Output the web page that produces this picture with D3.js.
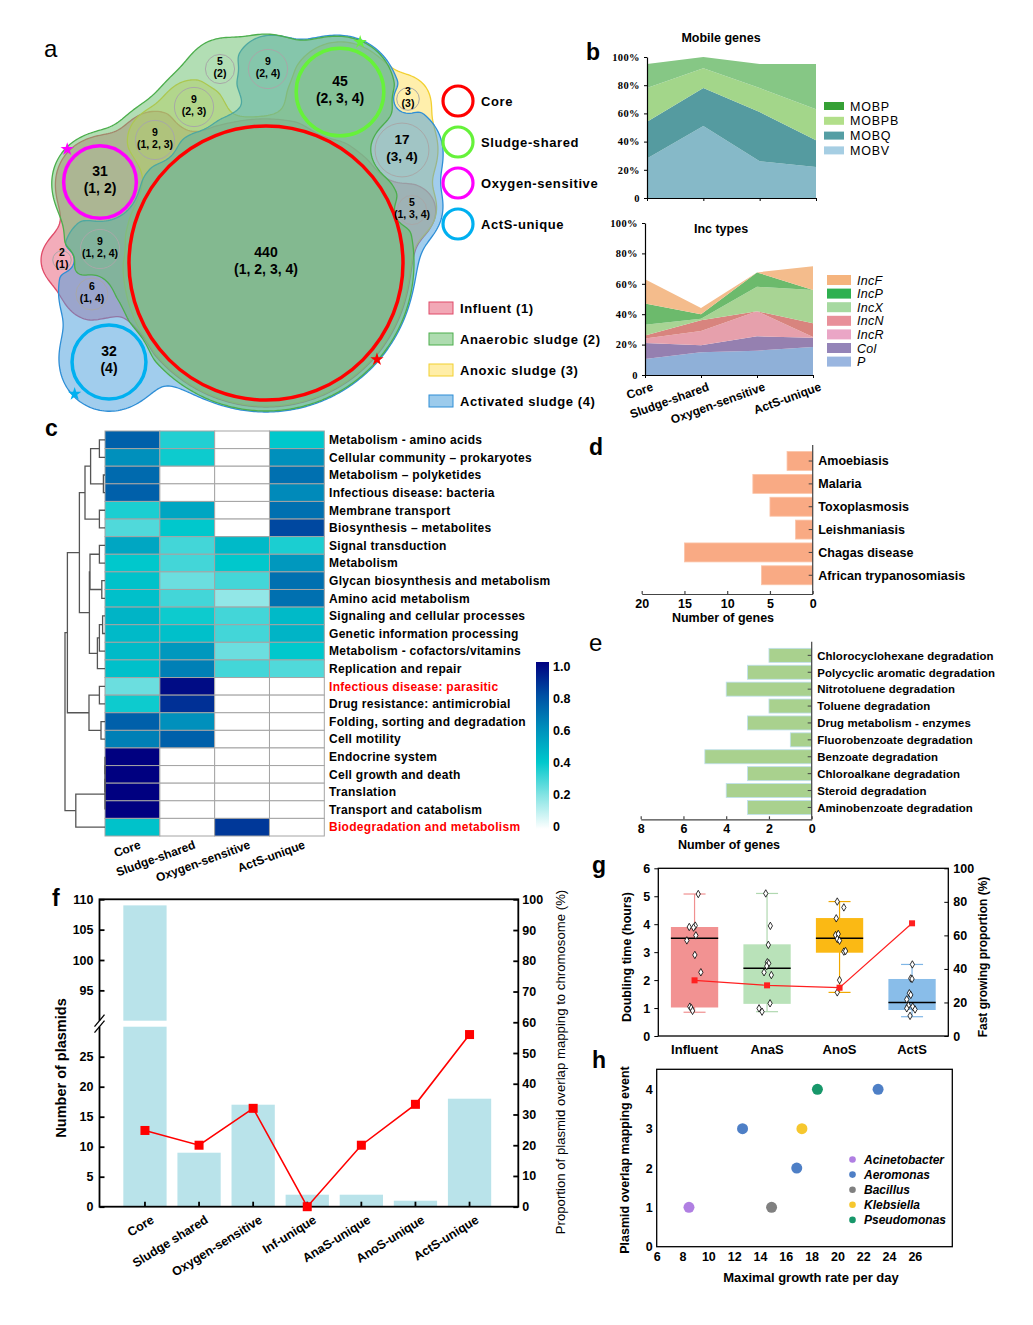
<!DOCTYPE html>
<html>
<head>
<meta charset="utf-8">
<script src="https://cdn.jsdelivr.net/npm/d3@7"></script>
<style>
  body { margin: 0; background: #fff; }
  svg { display: block; font-family: "Liberation Sans", Arial, sans-serif; }
</style>
</head>
<body>
<svg id="fig" width="1033" height="1325"></svg>
<script>
// ---------------- data ----------------
// a : plasmid clusters shared between the four sampling sites
const vennCounts = [440, 45, 31, 32, 17, 9, 5, 9, 3, 9, 5, 9, 2, 6];
const vennSets = ["1, 2, 3, 4", "2, 3, 4", "1, 2", "4", "3, 4", "2, 4", "2", "2, 3", "3", "1, 2, 3", "1, 3, 4", "1, 2, 4", "1", "1, 4"];
const vennGroups = ["Influent (1)", "Anaerobic sludge (2)", "Anoxic sludge (3)", "Activated sludge (4)"];
const vennHighlight = ["Core", "Sludge-shared", "Oxygen-sensitive", "ActS-unique"];
// layout of the euler diagram (circle centres), not data
const vennPos = [[266, 263], [340, 92], [100, 182], [109, 362], [402, 150], [268, 69], [220, 69], [194, 107], [408, 99], [155, 140], [412, 210], [100, 249], [62, 260], [92, 294]];
const starAngle = [41, -68, -135, 137];

// b : mobile genes / Inc types (%)
const bCats = ["Core", "Sludge-shared", "Oxygen-sensitive", "ActS-unique"];
const mobV = [28, 51, 26, 22];
const mobQ = [26, 27, 35, 19];
const mobPB = [24, 14, 17, 22];
const mobP = [17, 8, 17, 32];
const incPlain = [10.5, 15, 16, 18.5];   // P
const incCol = [10.5, 4.5, 9.5, 6];
const incR = [3, 9.5, 16.5, 0.5];
const incN = [2, 7, 0, 9];
const incX = [7, 1, 16, 22];
const incP = [14, 3, 9.5, 0];
const incF = [16, 4, 0, 15.5];

// c : KEGG heatmap
const heatRows = ["Metabolism - amino acids", "Cellular community \u2013 prokaryotes", "Metabolism \u2013 polyketides",
  "Infectious disease: bacteria", "Membrane transport", "Biosynthesis \u2013 metabolites", "Signal transduction", "Metabolism",
  "Glycan biosynthesis and metabolism", "Amino acid metabolism", "Signaling and cellular processes", "Genetic information processing",
  "Metabolism - cofactors/vitamins", "Replication and repair", "Infectious disease: parasitic", "Drug resistance: antimicrobial",
  "Folding, sorting and degradation", "Cell motility", "Endocrine system", "Cell growth and death", "Translation",
  "Transport and catabolism", "Biodegradation and metabolism"];
const heatRed = ["Infectious disease: parasitic", "Biodegradation and metabolism"];
const heatCols = ["Core", "Sludge-shared", "Oxygen-sensitive", "ActS-unique"];
const heatCore = [0.75, 0.6, 0.72, 0.75, 0.36, 0.28, 0.52, 0.4, 0.42, 0.43, 0.47, 0.45, 0.45, 0.43, 0.24, 0.38, 0.75, 0.65, 1, 1, 1, 1, 0.42];
const heatSludge = [0.35, 0.38, 0, 0, 0.52, 0.4, 0.3, 0.3, 0.24, 0.3, 0.38, 0.43, 0.57, 0.65, 0.97, 0.88, 0.6, 0.75, 0, 0, 0, 0, 0];
const heatOxy = [0, 0, 0, 0, 0, 0, 0.45, 0.4, 0.3, 0.18, 0.3, 0.3, 0.24, 0.3, 0, 0, 0, 0, 0, 0, 0, 0, 0.86];
const heatActS = [0.4, 0.6, 0.7, 0.62, 0.7, 0.82, 0.36, 0.57, 0.7, 0.7, 0.45, 0.47, 0.4, 0.28, 0, 0, 0, 0, 0, 0, 0, 0, 0];
// row dendrogram: [height, left, right], leaves = row index
const heatTree = [1.0,
  [0.94,
    [0.64,
      [0.5, [0.36, [0.14, 0, 1], [0.04, 2, 3]], [0.14, 4, 5]],
      [0.39, [0.375, [0.14, 6, 7], [0.08, 8, 9]], [0.19, [0.14, [0.06, 10, 11], 12], 13]]],
    [0.4, [0.14, 14, 15], [0.1, 16, 17]]],
  [0.73, [0, [0, [0, 18, 19], 20], 21], 22]];

// d : parasitic diseases
const diseases = ["Amoebiasis", "Malaria", "Toxoplasmosis", "Leishmaniasis", "Chagas disease", "African trypanosomiasis"];
const diseaseGenes = [3, 7, 5, 2, 15, 6];

// e : biodegradation
const degradations = ["Chlorocyclohexane degradation", "Polycyclic aromatic degradation", "Nitrotoluene degradation",
  "Toluene degradation", "Drug metabolism - enzymes", "Fluorobenzoate degradation", "Benzoate degradation",
  "Chloroalkane degradation", "Steroid degradation", "Aminobenzoate degradation"];
const degradGenes = [2, 3, 4, 2, 3, 1, 5, 3, 4, 3];

// f : plasmids per category
const plasmidCats = ["Core", "Sludge shared", "Oxygen-sensitive", "Inf-unique", "AnaS-unique", "AnoS-unique", "ActS-unique"];
const plasmidCounts = [109, 9, 17, 2, 2, 1, 18];
const overlapPct = [24.8, 20, 32, 0, 20, 33.3, 56];

// g : doubling time
const sites = ["Influent", "AnaS", "AnoS", "ActS"];
const boxLo = [0.85, 0.87, 1.56, 0.69];
const boxQ1 = [1.02, 1.15, 2.98, 0.93];
const boxMed = [3.5, 2.42, 3.5, 1.2];
const boxQ3 = [3.9, 3.28, 4.22, 2.04];
const boxHi = [5.08, 5.1, 4.81, 2.56];
const dtInfluent = [5.08, 3.9, 3.95, 3.88, 3.6, 3.42, 2.9, 2.28, 1.05, 1.0, 0.9];
const dtAnaS = [5.1, 3.94, 3.26, 2.64, 2.6, 2.5, 2.28, 2.18, 1.17, 0.99, 0.87];
const dtAnoS = [4.81, 4.6, 4.21, 3.61, 3.65, 3.47, 3.41, 3.02, 3.04, 2.0, 1.56];
const dtActS = [2.56, 2.06, 2.04, 1.53, 1.47, 1.31, 1.05, 1.09, 0.99, 0.95, 0.72];
const jitInfluent = [3.7, -5.3, 0.7, -1, 1.3, -7.7, 0.3, 6.3, -4.7, -3.3, -2];
const jitAnaS = [-1.3, 3.3, 1.3, 0.3, 1.7, -0.3, -3, 4.3, 3, -8, -5];
const jitAnoS = [-2.3, 4.3, -3.3, -4, -1.3, -2.3, 0, 4.3, 6, 0, -2.3];
const jitActS = [0.3, -1.3, 0, -2.7, -1.3, -5.3, 0.7, -3.7, -5.3, 3, -2];
const fastPct = [33.2, 30.2, 28.8, 67.2];

// h : growth rate vs overlap events
const hGenus = ["Acinetobacter", "Aeromonas", "Aeromonas", "Aeromonas", "Bacillus", "Klebsiella", "Pseudomonas"];
const hRate = [8.5, 12.65, 16.85, 23.15, 14.9, 17.25, 18.45];
const hEvents = [1, 3, 2, 4, 1, 3, 4];
const genera = ["Acinetobacter", "Aeromonas", "Bacillus", "Klebsiella", "Pseudomonas"];

// ---------------- helpers ----------------
const FONT = '"Liberation Sans", Arial, sans-serif';
const SERIF = '"Liberation Serif", "Times New Roman", serif';
const svg = d3.select("#fig");

function txt(g, x, y, s, o = {}) {
  const t = g.append("text").attr("x", x).attr("y", y).text(s)
    .attr("font-size", o.size || 12)
    .attr("font-weight", o.weight || "bold")
    .attr("text-anchor", o.anchor || "start")
    .attr("fill", o.fill || "#000");
  if (o.italic) t.attr("font-style", "italic");
  if (o.ls) t.attr("letter-spacing", o.ls);
  if (o.family) t.attr("font-family", o.family);
  if (o.rotate) t.attr("transform", `rotate(${o.rotate},${x},${y})`);
  return t;
}
function restyle(g, size, weight, family) {
  g.attr("font-family", null).attr("font-size", null);
  g.selectAll("text").attr("font-size", size).attr("font-weight", weight)
    .attr("font-family", family || FONT).attr("fill", "#000");
}

// panel letters
txt(svg, 44, 57, "a", { size: 24, weight: "normal" });
txt(svg, 586, 60, "b", { size: 23 });
txt(svg, 45, 436, "c", { size: 23 });
txt(svg, 589, 455, "d", { size: 23 });
txt(svg, 589, 651, "e", { size: 24, weight: "normal" });
txt(svg, 52, 906, "f", { size: 23 });
txt(svg, 592, 873, "g", { size: 23 });
txt(svg, 592, 1068, "h", { size: 23 });

// ---------------- a : euler diagram ----------------
const gA = svg.append("g");
const rScale = d3.scaleSqrt().domain([0, 440]).range([0, 137]);
const regions = vennCounts.map((n, i) => ({
  n, label: vennSets[i], sets: vennSets[i].split(", ").map(Number),
  x: vennPos[i][0], y: vennPos[i][1], r: rScale(n)
}));
const blobLook = [
  { id: 1, fill: "#e8607a", stroke: "#e04a68", pad: 7 },
  { id: 2, fill: "#6cc070", stroke: "#4cae4c", pad: 11 },
  { id: 3, fill: "#ffe060", stroke: "#f2d030", pad: 6 },
  { id: 4, fill: "#4aa0dc", stroke: "#2e8ed6", pad: 12 }
];
const blobOrder = [1, 3, 4, 2];

function sminPoly(a, b, k) {
  const h = Math.max(k - Math.abs(a - b), 0) / k;
  return Math.min(a, b) - h * h * k / 4;
}
// smooth union of member circles minus the other circles, traced with d3.contours
function blobPath(setId, pad, k) {
  const step = 2, gx0 = 10, gy0 = 10, nx = 250, ny = 220;
  const vals = new Array(nx * ny);
  for (let j = 0; j < ny; j++) {
    for (let i = 0; i < nx; i++) {
      const px = gx0 + i * step, py = gy0 + j * step;
      let sum = 0, cut = -1e9;
      for (const r of regions) {
        const d = Math.hypot(px - r.x, py - r.y);
        if (r.sets.includes(setId)) sum += Math.exp(-(d - r.r - pad) / k);
        else cut = Math.max(cut, r.r + 3 - d);
      }
      const inside = sum > 0 ? k * Math.log(sum) : -1e9;
      vals[j * nx + i] = sminPoly(inside, -cut, 8);
    }
  }
  const c = d3.contours().size([nx, ny]).thresholds([0])(vals)[0];
  return d3.geoPath(d3.geoIdentity().scale(step).translate([gx0 - step / 2, gy0 - step / 2]))(c);
}

blobOrder.forEach(id => {
  const b = blobLook[id - 1];
  gA.append("path").attr("d", blobPath(b.id, b.pad, 16))
    .attr("fill", b.fill).attr("fill-opacity", 0.52)
    .attr("stroke", b.stroke).attr("stroke-width", 1.3);
});

gA.selectAll("circle.reg").data(regions).join("circle")
  .attr("class", "reg")
  .attr("cx", d => d.x).attr("cy", d => d.y).attr("r", d => d.r)
  .attr("fill", "none").attr("stroke", "#a8a8a8").attr("stroke-width", 1);

const hiColors = ["#ff0000", "#66f23a", "#ff00ff", "#00b0f0"];
vennHighlight.forEach((h, i) => {
  const r = regions[i];
  gA.append("circle").attr("cx", r.x).attr("cy", r.y).attr("r", r.r)
    .attr("fill", "none").attr("stroke", hiColors[i]).attr("stroke-width", 3.5);
  const a = starAngle[i] * Math.PI / 180, d = r.r + 10;
  gA.append("path").attr("d", d3.symbol().type(d3.symbolStar).size(55)())
    .attr("transform", `translate(${r.x + d * Math.cos(a)},${r.y + d * Math.sin(a)})`)
    .attr("fill", hiColors[i]);
});

regions.forEach(r => {
  const fs = r.r > 30 ? 14 : r.r > 25 ? 13.5 : 10.5;
  txt(gA, r.x, r.y - 0.42 * fs, String(r.n), { size: fs, anchor: "middle" });
  txt(gA, r.x, r.y + 0.8 * fs, "(" + r.label + ")", { size: fs, anchor: "middle" });
});

// legends of a
vennHighlight.forEach((h, i) => {
  const y = 101 + i * 41;
  gA.append("circle").attr("cx", 458).attr("cy", y).attr("r", 15)
    .attr("fill", "none").attr("stroke", hiColors[i]).attr("stroke-width", 3.2);
  txt(gA, 481, y + 5, h, { size: 13, ls: 0.6 });
});
vennGroups.forEach((g, i) => {
  const y = 308 + i * 31;
  gA.append("rect").attr("x", 429).attr("y", y - 6).attr("width", 24).attr("height", 12)
    .attr("fill", blobLook[i].fill).attr("fill-opacity", 0.55)
    .attr("stroke", blobLook[i].stroke).attr("stroke-width", 1);
  txt(gA, 460, y + 5, g, { size: 13, ls: 0.6 });
});

// ---------------- b : stacked areas ----------------
function stackPanel(cfg) {
  const g = svg.append("g");
  const table = bCats.map((c, i) => {
    const row = { cat: c };
    cfg.keys.forEach((k, j) => row[k] = cfg.series[j][i]);
    return row;
  });
  const st = d3.stack().keys(cfg.keys)(table);
  const x = d3.scalePoint().domain(bCats).range(cfg.xr);
  const y = d3.scaleLinear().domain([0, 100]).range(cfg.yr);
  const area = d3.area().x(d => x(d.data.cat)).y0(d => y(d[0])).y1(d => y(d[1]));
  g.selectAll("path.band").data(st).join("path").attr("class", "band")
    .attr("d", area).attr("fill", (d, i) => cfg.band[i]);
  const ya = g.append("g").attr("transform", `translate(${cfg.xr[0]},0)`)
    .call(d3.axisLeft(y).tickValues([0, 20, 40, 60, 80, 100]).tickFormat(d => d ? d + "%" : "0").tickSize(3).tickSizeOuter(0).tickPadding(4));
  restyle(ya, 10.5, "bold", SERIF);
  ya.selectAll("text").attr("letter-spacing", 0.4);
  const xa = g.append("g").attr("transform", `translate(0,${cfg.yr[0]})`)
    .call(d3.axisBottom(x).tickSize(3).tickSizeOuter(0).tickFormat(""));
  xa.select(".domain").attr("stroke-width", 1.2);
  ya.select(".domain").attr("stroke-width", 1.2);
  txt(g, 721, cfg.titleY, cfg.title, { size: 12.5, anchor: "middle" });
  cfg.legendOrder.forEach((k, i) => {
    const j = cfg.keys.indexOf(k);
    const yy = cfg.legY[0] + i * cfg.legY[1];
    g.append("rect").attr("x", cfg.legX).attr("y", yy - cfg.swH / 2).attr("width", cfg.swW).attr("height", cfg.swH)
      .attr("fill", cfg.legend[j]);
    txt(g, cfg.legX + cfg.swW + 6, yy + 4.5, k, { size: 12.5, weight: "normal", italic: cfg.italic, ls: cfg.italic ? 0.3 : 0.8 });
  });
  return { g, x, y };
}

stackPanel({
  keys: ["MOBV", "MOBQ", "MOBPB", "MOBP"], series: [mobV, mobQ, mobPB, mobP],
  band: ["#86b9c8", "#559ba0", "#a3d68a", "#86c785"],
  legend: ["#a6cee3", "#559ea4", "#b2df8a", "#35a035"],
  legendOrder: ["MOBP", "MOBPB", "MOBQ", "MOBV"],
  xr: [647, 816], yr: [198, 57], title: "Mobile genes", titleY: 42,
  legX: 824, legY: [106, 14.8], swW: 20, swH: 8, italic: false
});

const incPanel = stackPanel({
  keys: ["P", "Col", "IncR", "IncN", "IncX", "IncP", "IncF"],
  series: [incPlain, incCol, incR, incN, incX, incP, incF],
  band: ["#8fb0d8", "#9580b0", "#e6a0ac", "#d8847e", "#a8d494", "#6cba6c", "#f4bc8c"],
  legend: ["#9ab6e0", "#9484b8", "#eaa6c6", "#e8909a", "#a6d9a0", "#2eb050", "#f5b47e"],
  legendOrder: ["IncF", "IncP", "IncX", "IncN", "IncR", "Col", "P"],
  xr: [645, 813], yr: [375, 223], title: "Inc types", titleY: 233,
  legX: 827, legY: [280, 13.6], swW: 24, swH: 10, italic: true
});
bCats.forEach(c => {
  txt(incPanel.g, incPanel.x(c) + 9, 390, c, { size: 12, anchor: "end", rotate: -20 });
});

// ---------------- c : heatmap ----------------
const gC = svg.append("g");
const heatX = d3.scaleBand().domain(heatCols).range([105, 324.3]);
const heatY = d3.scaleBand().domain(heatRows).range([431, 836]);
const heatColor = d3.scaleLinear().domain([0, 0.2, 0.4, 0.6, 0.8, 1])
  .range(["#ffffff", "#86e4e4", "#00c8cc", "#0090bc", "#0050a4", "#000080"]);
const heatVals = [heatCore, heatSludge, heatOxy, heatActS];
heatCols.forEach((c, j) => {
  gC.selectAll(null).data(heatRows).join("rect")
    .attr("x", heatX(c)).attr("y", d => heatY(d))
    .attr("width", heatX.bandwidth()).attr("height", heatY.bandwidth())
    .attr("fill", (d, i) => heatColor(heatVals[j][i]))
    .attr("stroke", "#a4a4a4").attr("stroke-width", 1);
});
heatRows.forEach(r => {
  txt(gC, 329, heatY(r) + heatY.bandwidth() / 2 + 4.3, r, { size: 12, ls: 0.3, fill: heatRed.includes(r) ? "#ff0000" : "#000" });
});
heatCols.forEach(c => {
  txt(gC, heatX(c) + heatX.bandwidth() / 2 + 9, 848, c, { size: 12, anchor: "end", rotate: -20 });
});
// dendrogram
const dendX = d3.scaleLinear().domain([0, 1]).range([105, 65]);
const gD = gC.append("g").attr("fill", "none").attr("stroke", "#555").attr("stroke-width", 1.3);
function placeNode(node) {
  if (typeof node === "number") return { x: 105, y: heatY(heatRows[node]) + heatY.bandwidth() / 2 };
  const [h, a, b] = node;
  const pa = placeNode(a), pb = placeNode(b), x = dendX(h);
  gD.append("path").attr("d", `M${pa.x},${pa.y}H${x}V${pb.y}H${pb.x}`);
  return { x, y: (pa.y + pb.y) / 2 };
}
placeNode(heatTree);
// colour bar
const defs = svg.append("defs");
const grad = defs.append("linearGradient").attr("id", "heatGrad").attr("x1", 0).attr("y1", 1).attr("x2", 0).attr("y2", 0);
heatColor.domain().forEach(v => grad.append("stop").attr("offset", v).attr("stop-color", heatColor(v)));
gC.append("rect").attr("x", 536).attr("y", 662).attr("width", 13).attr("height", 167).attr("fill", "url(#heatGrad)");
const cbY = d3.scaleLinear().domain([0, 1]).range([826.7, 666]);
[0, 0.2, 0.4, 0.6, 0.8, 1].forEach(v => {
  txt(gC, 553, cbY(v) + 4.5, v === 0 ? "0" : v.toFixed(1), { size: 12.5 });
});

// ---------------- d / e : horizontal bars ----------------
function hbarPanel(cfg) {
  const g = svg.append("g");
  const x = d3.scaleLinear().domain([0, cfg.max]).range([cfg.x0, cfg.x1]);
  const y = d3.scaleBand().domain(cfg.cats).range(cfg.yr).paddingInner(0.17).paddingOuter(0.085);
  g.selectAll("rect").data(cfg.cats).join("rect")
    .attr("x", (d, i) => x(cfg.vals[i])).attr("y", d => y(d))
    .attr("width", (d, i) => x(0) - x(cfg.vals[i])).attr("height", y.bandwidth())
    .attr("fill", cfg.fill).attr("stroke", cfg.stroke).attr("stroke-width", 0.8);
  g.append("line").attr("x1", x(0)).attr("x2", x(0)).attr("y1", cfg.axTop).attr("y2", cfg.axBot)
    .attr("stroke", "#444").attr("stroke-width", 1.2);
  cfg.cats.forEach(c => {
    const yy = y(c) + y.bandwidth() / 2;
    g.append("line").attr("x1", x(0) - 4).attr("x2", x(0)).attr("y1", yy).attr("y2", yy).attr("stroke", "#444");
    txt(g, x(0) + 5.5, yy + 4.3, c, { size: cfg.fs, ls: cfg.ls });
  });
  const xa = g.append("g").attr("transform", `translate(0,${cfg.axBot})`)
    .call(d3.axisBottom(x).tickValues(cfg.ticks).tickSize(-3).tickSizeOuter(0).tickPadding(5));
  xa.selectAll("line,path").attr("stroke", "#444").attr("stroke-width", 1.2);
  restyle(xa, 12.5, "bold");
  txt(g, cfg.titleX, cfg.titleY, "Number of genes", { size: 12.5, anchor: "middle" });
}
hbarPanel({
  cats: diseases, vals: diseaseGenes, max: 20, x0: 812.7, x1: 641.7, yr: [449.6, 586.7],
  axTop: 445, axBot: 594, ticks: [0, 5, 10, 15, 20], fill: "#f9aa84", stroke: "#fbc4a8",
  fs: 12.5, ls: 0.05, titleX: 723, titleY: 622
});
hbarPanel({
  cats: degradations, vals: degradGenes, max: 8, x0: 811.7, x1: 640.7, yr: [646.9, 815.9],
  axTop: 641.7, axBot: 819.3, ticks: [0, 2, 4, 6, 8], fill: "#a9d18e", stroke: "#bfe0ee",
  fs: 11.4, ls: 0.1, titleX: 729, titleY: 849
});

// ---------------- f : plasmid counts + overlap ----------------
const gF = svg.append("g");
const fL = 99.5, fR = 518.3, fT = 899.3, fB = 1206.7;
const xf = d3.scaleBand().domain(plasmidCats).range([112.5, 502]).padding(0.2);
const yLow = d3.scaleLinear().domain([0, 30]).range([fB, 1026.7]);
const yUp = d3.scaleLinear().domain([90, 110]).range([1020.7, fT]);
const yPct = d3.scaleLinear().domain([0, 100]).range([fB, fT]);
plasmidCats.forEach((c, i) => {
  const v = plasmidCounts[i];
  gF.append("rect").attr("x", xf(c)).attr("width", xf.bandwidth())
    .attr("y", yLow(Math.min(v, 30))).attr("height", fB - yLow(Math.min(v, 30))).attr("fill", "#b9e3ea");
  if (v > 30) {
    gF.append("rect").attr("x", xf(c)).attr("width", xf.bandwidth())
      .attr("y", yUp(v)).attr("height", yUp(90) - yUp(v)).attr("fill", "#b9e3ea");
  }
});
gF.append("rect").attr("x", fL).attr("y", fT).attr("width", fR - fL).attr("height", fB - fT)
  .attr("fill", "none").attr("stroke", "#000").attr("stroke-width", 1.8);
const fLow = gF.append("g").attr("transform", `translate(${fL},0)`)
  .call(d3.axisLeft(yLow).tickValues([0, 5, 10, 15, 20, 25]).tickSize(-5).tickPadding(6).tickSizeOuter(0));
const fUp = gF.append("g").attr("transform", `translate(${fL},0)`)
  .call(d3.axisLeft(yUp).tickValues([95, 100, 105, 110]).tickSize(-5).tickPadding(6).tickSizeOuter(0));
[fLow, fUp].forEach(a => { a.select(".domain").remove(); a.selectAll("line").attr("stroke-width", 1.8); restyle(a, 12.5, "bold"); });
const fRight = gF.append("g").attr("transform", `translate(${fR},0)`)
  .call(d3.axisRight(yPct).ticks(10).tickSize(-5).tickPadding(4).tickSizeOuter(0));
fRight.select(".domain").remove();
fRight.selectAll("line").attr("stroke-width", 1.8);
restyle(fRight, 12.5, "bold");
const fBot = gF.append("g").attr("transform", `translate(0,${fB})`)
  .call(d3.axisBottom(xf).tickSize(-5).tickSizeOuter(0).tickFormat(""));
fBot.select(".domain").remove();
fBot.selectAll("line").attr("stroke-width", 1.8);
// axis break
gF.append("rect").attr("x", fL - 3).attr("y", 1020.7).attr("width", 6).attr("height", 6).attr("fill", "#fff");
[1020.7, 1026.7].forEach(yy => {
  gF.append("line").attr("x1", fL - 5).attr("y1", yy + 6).attr("x2", fL + 5).attr("y2", yy - 6)
    .attr("stroke", "#000").attr("stroke-width", 1.3);
});
const fLine = d3.line().x((d, i) => xf(plasmidCats[i]) + xf.bandwidth() / 2).y(d => yPct(d));
gF.append("path").attr("d", fLine(overlapPct)).attr("fill", "none").attr("stroke", "#ff0000").attr("stroke-width", 1.6);
gF.selectAll("rect.pt").data(overlapPct).join("rect").attr("class", "pt")
  .attr("x", (d, i) => xf(plasmidCats[i]) + xf.bandwidth() / 2 - 4.5).attr("y", d => yPct(d) - 4.5)
  .attr("width", 9).attr("height", 9).attr("fill", "#ff0000");
plasmidCats.forEach(c => {
  txt(gF, xf(c) + xf.bandwidth() / 2 + 10, 1222, c, { size: 12.5, anchor: "end", rotate: -32 });
});
txt(gF, 66, 1068, "Number of plasmids", { size: 14.5, anchor: "middle", rotate: -90 });
txt(gF, 565, 1062, "Proportion of plasmid overlap mapping to chromosome (%)", { size: 13.2, weight: "normal", anchor: "middle", rotate: -90 });

// ---------------- g : doubling time boxes ----------------
const gG = svg.append("g");
const gL = 658.3, gR = 948.3, gT = 868.3, gB = 1036;
const xg = d3.scaleBand().domain(sites).range([gL, gR]);
const yg = d3.scaleLinear().domain([0, 6]).range([gB, gT]);
const ygR = d3.scaleLinear().domain([0, 100]).range([gB, gT]);
const boxFill = ["#f29292", "#b9e2b9", "#fbb914", "#89bde9"];
const boxWhisk = ["#f09090", "#b0d8b0", "#f0a800", "#7fb6e6"];
const dtAll = [dtInfluent, dtAnaS, dtAnoS, dtActS];
const jitAll = [jitInfluent, jitAnaS, jitAnoS, jitActS];
sites.forEach((s, i) => {
  const cx = xg(s) + xg.bandwidth() / 2, bw = 47.3;
  gG.append("line").attr("x1", cx).attr("x2", cx).attr("y1", yg(boxLo[i])).attr("y2", yg(boxHi[i]))
    .attr("stroke", boxWhisk[i]).attr("stroke-width", 1.2);
  [boxLo[i], boxHi[i]].forEach(v => gG.append("line").attr("x1", cx - 11).attr("x2", cx + 11)
    .attr("y1", yg(v)).attr("y2", yg(v)).attr("stroke", boxWhisk[i]).attr("stroke-width", 1.2));
  gG.append("rect").attr("x", cx - bw / 2).attr("width", bw).attr("y", yg(boxQ3[i]))
    .attr("height", yg(boxQ1[i]) - yg(boxQ3[i])).attr("fill", boxFill[i]);
  gG.append("line").attr("x1", cx - bw / 2).attr("x2", cx + bw / 2).attr("y1", yg(boxMed[i])).attr("y2", yg(boxMed[i]))
    .attr("stroke", "#000").attr("stroke-width", 1.5);
  dtAll[i].forEach((v, k) => {
    gG.append("path").attr("d", d3.symbol().type(d3.symbolDiamond).size(16)())
      .attr("transform", `translate(${cx + jitAll[i][k]},${yg(v)})`)
      .attr("fill", "#fff").attr("stroke", "#000").attr("stroke-width", 0.8);
  });
  txt(gG, cx, 1053.5, s, { size: 13, anchor: "middle" });
});
const gLine = d3.line().x((d, i) => xg(sites[i]) + xg.bandwidth() / 2).y(d => ygR(d));
gG.append("path").attr("d", gLine(fastPct)).attr("fill", "none").attr("stroke", "#ff2020").attr("stroke-width", 1.2);
gG.selectAll("rect.pt").data(fastPct).join("rect").attr("class", "pt")
  .attr("x", (d, i) => xg(sites[i]) + xg.bandwidth() / 2 - 3).attr("y", d => ygR(d) - 3)
  .attr("width", 6).attr("height", 6).attr("fill", "#ff2020");
gG.append("rect").attr("x", gL).attr("y", gT).attr("width", gR - gL).attr("height", gB - gT)
  .attr("fill", "none").attr("stroke", "#000").attr("stroke-width", 1.3);
const gAxL = gG.append("g").attr("transform", `translate(${gL},0)`)
  .call(d3.axisLeft(yg).ticks(6).tickSize(4).tickPadding(4).tickSizeOuter(0));
gAxL.select(".domain").remove();
restyle(gAxL, 12.5, "bold");
const gAxR = gG.append("g").attr("transform", `translate(${gR},0)`)
  .call(d3.axisRight(ygR).tickValues([0, 20, 40, 60, 80, 100]).tickSize(-4).tickPadding(5).tickSizeOuter(0));
gAxR.select(".domain").remove();
restyle(gAxR, 12.5, "bold");
txt(gG, 631, 957, "Doubling time (hours)", { size: 12.5, anchor: "middle", rotate: -90 });
txt(gG, 987, 957, "Fast growing proportion (%)", { size: 12, anchor: "middle", rotate: -90 });

// ---------------- h : scatter ----------------
const gH = svg.append("g");
const hL = 656.7, hR = 952.3, hT = 1069.3, hB = 1246.7;
const xh = d3.scaleLinear().domain([6, 28.9]).range([hL, hR]);
const yh = d3.scaleLinear().domain([0, 4.51]).range([hB, hT]);
const genusColor = d3.scaleOrdinal().domain(genera).range(["#b07fe2", "#4e7fc6", "#808080", "#f6c72e", "#17976a"]);
gH.append("rect").attr("x", hL).attr("y", hT).attr("width", hR - hL).attr("height", hB - hT)
  .attr("fill", "none").attr("stroke", "#000").attr("stroke-width", 1.3);
const hAxB = gH.append("g").attr("transform", `translate(0,${hB})`)
  .call(d3.axisBottom(xh).tickValues(d3.range(6, 27, 2)).tickFormat(d3.format("d")).tickSize(0).tickPadding(5));
hAxB.select(".domain").remove();
restyle(hAxB, 12.5, "bold");
const hAxL = gH.append("g").attr("transform", `translate(${hL},0)`)
  .call(d3.axisLeft(yh).tickValues([0, 1, 2, 3, 4]).tickFormat(d3.format("d")).tickSize(0).tickPadding(4));
hAxL.select(".domain").remove();
restyle(hAxL, 12.5, "bold");
gH.selectAll("circle.pt").data(hRate).join("circle").attr("class", "pt")
  .attr("cx", d => xh(d)).attr("cy", (d, i) => yh(hEvents[i])).attr("r", 5.5)
  .attr("fill", (d, i) => genusColor(hGenus[i]));
genera.forEach((g, i) => {
  const yy = 1159.5 + i * 15.1;
  gH.append("circle").attr("cx", 852.5).attr("cy", yy).attr("r", 3.3).attr("fill", genusColor(g));
  txt(gH, 864, yy + 4.3, g, { size: 12, italic: true });
});
txt(gH, 811, 1282, "Maximal growth rate per day", { size: 13, anchor: "middle" });
txt(gH, 629, 1160, "Plasmid overlap mapping event", { size: 12.5, anchor: "middle", rotate: -90 });
</script>
</body>
</html>
